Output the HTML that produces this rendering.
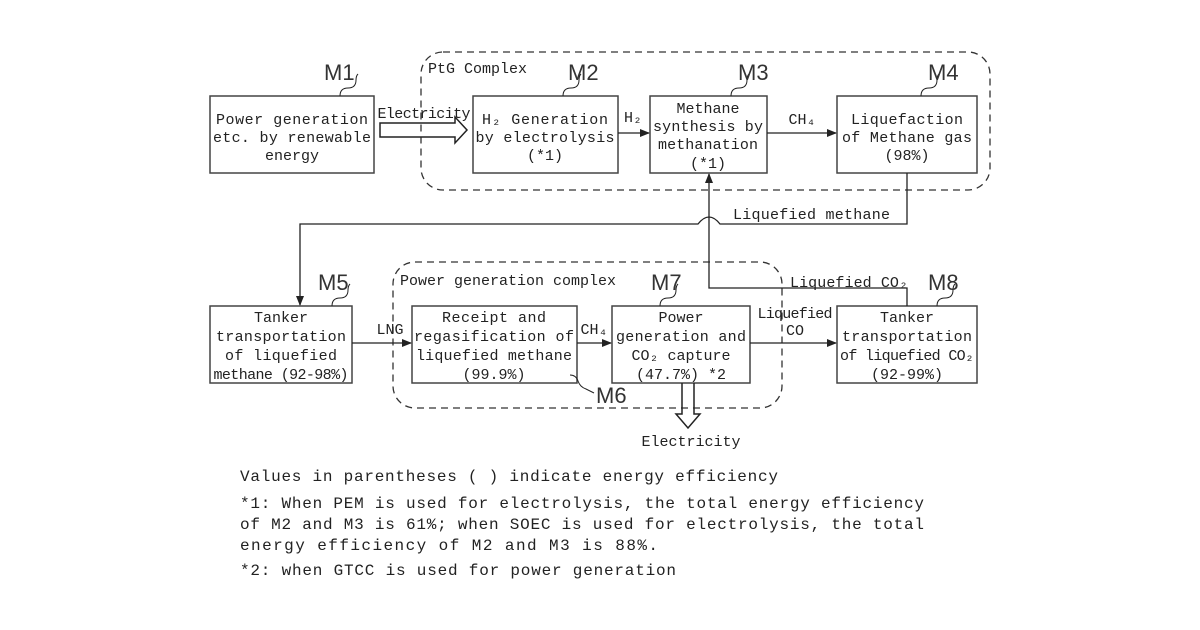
<!DOCTYPE html>
<html><head><meta charset="utf-8"><style>
html,body{margin:0;padding:0;background:#fff;}
svg{display:block;}
text{font-family:"Liberation Mono",monospace;fill:#222;}
.b{font-size:15px;}
.m{font-family:"Liberation Sans",sans-serif;font-size:22px;fill:#333;font-weight:300;}
.n{font-size:16px;}
</style></head><body>
<svg width="1200" height="630" viewBox="0 0 1200 630" xmlns="http://www.w3.org/2000/svg">
<defs><marker id="a" markerWidth="10" markerHeight="8" refX="9" refY="4" orient="auto" markerUnits="userSpaceOnUse"><path d="M0,0 L10,4 L0,8 Z" fill="#222"/></marker></defs>
<g fill="none" stroke="#333" stroke-width="1.3" stroke-dasharray="7,5">
<rect x="421" y="52" width="569" height="138" rx="22"/>
<rect x="393" y="262" width="389" height="146" rx="22"/>
</g>
<g fill="#fff" stroke="#444" stroke-width="1.5">
<rect x="210" y="96" width="164" height="77"/>
<rect x="473" y="96" width="145" height="77"/>
<rect x="650" y="96" width="117" height="77"/>
<rect x="837" y="96" width="140" height="77"/>
<rect x="210" y="306" width="142" height="77"/>
<rect x="412" y="306" width="165" height="77"/>
<rect x="612" y="306" width="138" height="77"/>
<rect x="837" y="306" width="140" height="77"/>
</g>
<g stroke="#222" stroke-width="1.3" fill="none">
<line x1="618" y1="133" x2="649" y2="133" marker-end="url(#a)"/>
<line x1="767" y1="133" x2="836" y2="133" marker-end="url(#a)"/>
<line x1="352" y1="343" x2="411" y2="343" marker-end="url(#a)"/>
<line x1="577" y1="343" x2="611" y2="343" marker-end="url(#a)"/>
<line x1="750" y1="343" x2="836" y2="343" marker-end="url(#a)"/>
<path d="M907,173 V224 H720 Q709,210 698,224 H300 V305" marker-end="url(#a)"/>
<path d="M907,306 V288 H709 V174" marker-end="url(#a)"/>
<path d="M380,123 H455 V117 L467,130 L455,143 V137 H380 Z" stroke-width="1.5"/>
<path d="M682,383 V414 H676 L688,428 L700,414 H694 V383" stroke-width="1.5"/>
<path d="M340,96 q0,-8 8,-8 q8,0 8,-8 q0,-4 2,-6" stroke-width="1"/>
<path d="M563,96 q0,-8 8,-8 q8,0 8,-8 q0,-4 2,-6" stroke-width="1"/>
<path d="M731,96 q0,-8 8,-8 q8,0 8,-8 q0,-4 2,-6" stroke-width="1"/>
<path d="M921,96 q0,-8 8,-8 q8,0 8,-8 q0,-4 2,-6" stroke-width="1"/>
<path d="M332,306 q0,-8 8,-8 q8,0 8,-8 q0,-4 2,-6" stroke-width="1"/>
<path d="M660,306 q0,-8 8,-8 q8,0 8,-8 q0,-4 2,-6" stroke-width="1"/>
<path d="M937,306 q0,-8 8,-8 q8,0 8,-8 q0,-4 2,-6" stroke-width="1"/>
<path d="M570,375 q6,0 8,6 q2,6 8,8 q4,2 8,4" stroke-width="1"/>
</g>
<text class="m" x="324" y="80">M1</text>
<text class="m" x="568" y="80">M2</text>
<text class="m" x="738" y="80">M3</text>
<text class="m" x="928" y="80">M4</text>
<text class="m" x="318" y="290">M5</text>
<text class="m" x="596" y="403">M6</text>
<text class="m" x="651" y="290">M7</text>
<text class="m" x="928" y="290">M8</text>
<text class="b" x="428" y="73">PtG Complex</text>
<text class="b" x="400" y="285">Power generation complex</text>
<g class="b" text-anchor="middle">
<text x="292" y="124" textLength="152">Power generation</text>
<text x="292" y="142" textLength="158">etc. by renewable</text>
<text x="292" y="160">energy</text>
<text x="545" y="124" textLength="126">H₂ Generation</text>
<text x="545" y="142" textLength="139">by electrolysis</text>
<text x="545" y="160">(*1)</text>
<text x="708" y="113">Methane</text>
<text x="708" y="131" textLength="110">synthesis by</text>
<text x="708" y="149" textLength="100">methanation</text>
<text x="708" y="168">(*1)</text>
<text x="907" y="124" textLength="112">Liquefaction</text>
<text x="907" y="142" textLength="130">of Methane gas</text>
<text x="907" y="160">(98%)</text>
<text x="281" y="322">Tanker</text>
<text x="281" y="341" textLength="130">transportation</text>
<text x="281" y="360" textLength="112">of liquefied</text>
<text x="281" y="379" textLength="135">methane (92-98%)</text>
<text x="494" y="322" textLength="104">Receipt and</text>
<text x="494" y="341" textLength="160">regasification of</text>
<text x="494" y="360" textLength="156">liquefied methane</text>
<text x="494" y="379">(99.9%)</text>
<text x="681" y="322">Power</text>
<text x="681" y="341" textLength="130">generation and</text>
<text x="681" y="360">CO₂ capture</text>
<text x="681" y="379">(47.7%) *2</text>
<text x="907" y="322">Tanker</text>
<text x="907" y="341" textLength="130">transportation</text>
<text x="907" y="360" textLength="134">of liquefied CO₂</text>
<text x="907" y="379">(92-99%)</text>
<text x="424" y="118" textLength="93">Electricity</text>
<text x="633" y="122">H₂</text>
<text x="802" y="124">CH₄</text>
<text x="390" y="334">LNG</text>
<text x="594" y="334">CH₄</text>
<text x="795" y="318" textLength="75">Liquefied</text>
<text x="795" y="335">CO</text>
<text x="691" y="446">Electricity</text>
</g>
<text class="b" x="733" y="219" textLength="157">Liquefied methane</text>
<text class="b" x="790" y="287" textLength="118">Liquefied CO₂</text>
<g class="n">
<text x="240" y="481" textLength="538">Values in parentheses ( ) indicate energy efficiency</text>
<text x="240" y="508" textLength="684">*1: When PEM is used for electrolysis, the total energy efficiency</text>
<text x="240" y="529" textLength="684">of M2 and M3 is 61%; when SOEC is used for electrolysis, the total</text>
<text x="240" y="550" textLength="418">energy efficiency of M2 and M3 is 88%.</text>
<text x="240" y="575" textLength="436">*2: when GTCC is used for power generation</text>
</g>
</svg>
</body></html>
